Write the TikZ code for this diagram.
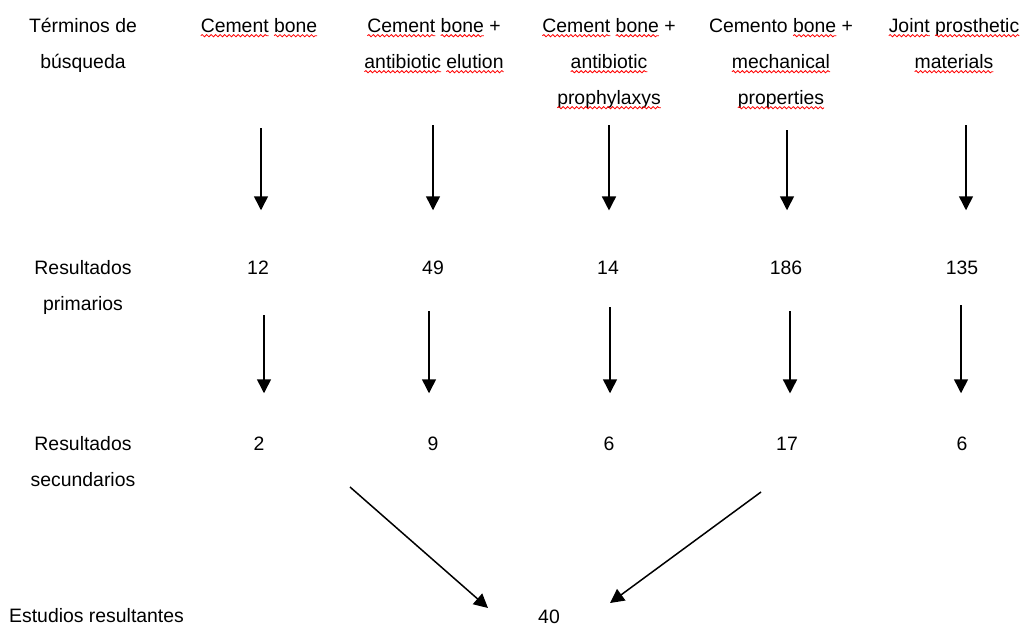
\documentclass[tikz,border=0pt]{standalone}
\usepackage{fontspec}
\setmainfont{Liberation Sans}
\usetikzlibrary{arrows.meta,decorations.pathmorphing}
% red spell-check wave under a word
\newsavebox\palabra
\newcommand\ortog[1]{\sbox\palabra{#1}\usebox\palabra\tikz[overlay]\draw[red, line width=0.8pt, decorate, decoration={snake, amplitude=1.1pt, segment length=4.5pt}] (-\wd\palabra,-3.5pt) -- (0pt,-3.5pt);}

\begin{document}
\begin{tikzpicture}[x=1pt,y=-1pt,
    texto/.style={font=\fontsize{19.4}{36}\selectfont, align=center, inner sep=0pt, anchor=north},
    numero/.style={font=\fontsize{19.4}{36}\selectfont, inner sep=0pt, anchor=base},
    flecha/.style={line width=1.5pt, -{Triangle[width=14pt,length=14pt]}}]
    \useasboundingbox (0,0) rectangle (1032,625);

    % Search terms
    \node[texto] (h0) at (83,6.8) {\strut Términos de\\búsqueda};
    \node[texto] (h1) at (259,6.8) {\strut\ortog{Cement} \ortog{bone}};
    \node[texto] (h2) at (434,6.8) {\strut\ortog{Cement} \ortog{bone} +\\\ortog{antibiotic} \ortog{elution}};
    \node[texto] (h3) at (609,6.8) {\strut\ortog{Cement} \ortog{bone} +\\\ortog{antibiotic}\\\ortog{prophylaxys}};
    \node[texto] (h4) at (781,6.8) {\strut Cemento \ortog{bone} +\\\ortog{mechanical}\\\ortog{properties}};
    \node[texto] (h5) at (954,6.8) {\strut\ortog{Joint} \ortog{prosthetic}\\\ortog{materials}};

    % Primary results
    \node[texto] (r1) at (83,248.8) {\strut Resultados\\primarios};
    \node[numero] (p1) at (258,274) {12};
    \node[numero] (p2) at (433,274) {49};
    \node[numero] (p3) at (608,274) {14};
    \node[numero] (p4) at (786,274) {186};
    \node[numero] (p5) at (962,274) {135};

    % Secondary results
    \node[texto] (r2) at (83,424.8) {\strut Resultados\\secundarios};
    \node[numero] (s1) at (259,450) {2};
    \node[numero] (s2) at (433,450) {9};
    \node[numero] (s3) at (609,450) {6};
    \node[numero] (s4) at (787,450) {17};
    \node[numero] (s5) at (962,450) {6};

    % Final studies
    \node[numero, anchor=base west] (r3) at (9,622) {Estudios resultantes};
    \node[numero] (total) at (549,623) {40};

    % Arrows terms -> primary
    \coordinate (a1) at (261,128);
    \coordinate (a2) at (433,125);
    \coordinate (a3) at (609,125);
    \coordinate (a4) at (787,130);
    \coordinate (a5) at (966,125);
    \draw[flecha, shorten >=50pt] (a1) -- (a1 |- p1.north);
    \draw[flecha, shorten >=50pt] (a2) -- (a2 |- p2.north);
    \draw[flecha, shorten >=50pt] (a3) -- (a3 |- p3.north);
    \draw[flecha, shorten >=50pt] (a4) -- (a4 |- p4.north);
    \draw[flecha, shorten >=50pt] (a5) -- (a5 |- p5.north);

    % Arrows primary -> secondary
    \coordinate (b1) at (264,315);
    \coordinate (b2) at (429,311);
    \coordinate (b3) at (610,307);
    \coordinate (b4) at (790,311);
    \coordinate (b5) at (961,305);
    \draw[flecha, shorten >=43pt] (b1) -- (b1 |- s1.north);
    \draw[flecha, shorten >=43pt] (b2) -- (b2 |- s2.north);
    \draw[flecha, shorten >=43pt] (b3) -- (b3 |- s3.north);
    \draw[flecha, shorten >=43pt] (b4) -- (b4 |- s4.north);
    \draw[flecha, shorten >=43pt] (b5) -- (b5 |- s5.north);

    % Arrows to the final count
    \coordinate (d1) at (350,487);
    \coordinate (t1) at (488,608);
    \coordinate (d2) at (761,492);
    \coordinate (t2) at (610,603);
    \draw[flecha] (d1) -- (t1);
    \draw[flecha] (d2) -- (t2);
\end{tikzpicture}
\end{document}
